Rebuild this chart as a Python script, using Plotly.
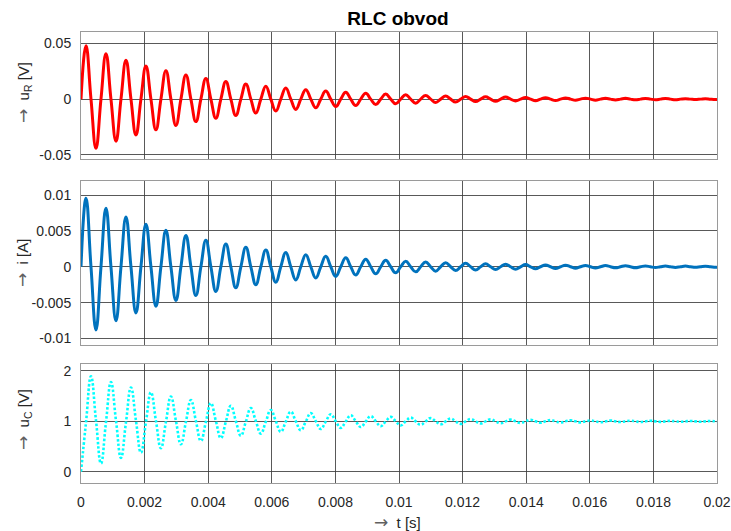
import plotly.graph_objects as go

# Sample times (s): zero crossings and extrema
t_s = [0.0, 0.000157, 0.000314, 0.000471, 0.000628, 0.000785, 0.000942, 0.0011, 0.001257, 0.001414,
       0.001571, 0.001728, 0.001885, 0.002042, 0.002199, 0.002356, 0.002513, 0.00267, 0.002827, 0.002985,
       0.003142, 0.003299, 0.003456, 0.003613, 0.00377, 0.003927, 0.004084, 0.004241, 0.004398, 0.004555,
       0.004712, 0.004869, 0.005027, 0.005184, 0.005341, 0.005498, 0.005655, 0.005812, 0.005969, 0.006126,
       0.006283, 0.00644, 0.006597, 0.006754, 0.006912, 0.007069, 0.007226, 0.007383, 0.00754, 0.007697,
       0.007854, 0.008011, 0.008168, 0.008325, 0.008482, 0.008639, 0.008796, 0.008954, 0.009111, 0.009268,
       0.009425, 0.009582, 0.009739, 0.009896, 0.010053, 0.01021, 0.010367, 0.010524, 0.010681, 0.010838,
       0.010996, 0.011153, 0.01131, 0.011467, 0.011624, 0.011781, 0.011938, 0.012095, 0.012252, 0.012409,
       0.012566, 0.012723, 0.012881, 0.013038, 0.013195, 0.013352, 0.013509, 0.013666, 0.013823, 0.01398,
       0.014137, 0.014294, 0.014451, 0.014608, 0.014765, 0.014923, 0.01508, 0.015237, 0.015394, 0.015551,
       0.015708, 0.015865, 0.016022, 0.016179, 0.016336, 0.016493, 0.01665, 0.016808, 0.016965, 0.017122,
       0.017279, 0.017436, 0.017593, 0.01775, 0.017907, 0.018064, 0.018221, 0.018378, 0.018535, 0.018692,
       0.01885, 0.019007, 0.019164, 0.019321, 0.019478, 0.019635, 0.019792, 0.019949, 0.02]

# Resistor voltage u_R (V)
u_R = [0, 0.0478, 0, -0.0440, 0, 0.0407, 0, -0.0376, 0, 0.0348, 0, -0.0321, 0, 0.0297, 0, -0.0275,
       0, 0.0254, 0, -0.0235, 0, 0.0217, 0, -0.0201, 0, 0.0185, 0, -0.0171, 0, 0.0158, 0, -0.0146,
       0, 0.0135, 0, -0.0125, 0, 0.0116, 0, -0.0107, 0, 0.0099, 0, -0.0092, 0, 0.0085, 0, -0.0078,
       0, 0.0072, 0, -0.0067, 0, 0.0062, 0, -0.0057, 0, 0.0053, 0, -0.0049, 0, 0.0045, 0, -0.0042,
       0, 0.0039, 0, -0.0036, 0, 0.0033, 0, -0.0030, 0, 0.0028, 0, -0.0026, 0, 0.0024, 0, -0.0022,
       0, 0.0021, 0, -0.0019, 0, 0.0018, 0, -0.0016, 0, 0.0015, 0, -0.0014, 0, 0.0013, 0, -0.0012,
       0, 0.0011, 0, -0.0010, 0, 0.0009, 0, -0.0009, 0, 0.0008, 0, -0.0007, 0, 0.0007, 0, -0.0006,
       0, 0.0006, 0, -0.0005, 0, 0.0005, 0, -0.0005, 0, 0.0004, 0, -0.0004, 0, 0.0004, 0, -0.0003,
       -0.0003]

# Current i (A)
i_A = [0, 0.00956, 0, -0.00880, 0, 0.00814, 0, -0.00752, 0, 0.00695, 0, -0.00643, 0, 0.00594, 0, -0.00549,
       0, 0.00508, 0, -0.00470, 0, 0.00434, 0, -0.00401, 0, 0.00371, 0, -0.00343, 0, 0.00317, 0, -0.00293,
       0, 0.00271, 0, -0.00250, 0, 0.00232, 0, -0.00214, 0, 0.00198, 0, -0.00183, 0, 0.00169, 0, -0.00156,
       0, 0.00145, 0, -0.00134, 0, 0.00124, 0, -0.00114, 0, 0.00106, 0, -0.00098, 0, 0.00090, 0, -0.00083,
       0, 0.00077, 0, -0.00071, 0, 0.00066, 0, -0.00061, 0, 0.00056, 0, -0.00052, 0, 0.00048, 0, -0.00045,
       0, 0.00041, 0, -0.00038, 0, 0.00035, 0, -0.00033, 0, 0.00030, 0, -0.00028, 0, 0.00026, 0, -0.00024,
       0, 0.00022, 0, -0.00020, 0, 0.00019, 0, -0.00017, 0, 0.00016, 0, -0.00015, 0, 0.00014, 0, -0.00013,
       0, 0.00012, 0, -0.00011, 0, 0.00010, 0, -0.00009, 0, 0.00009, 0, -0.00008, 0, 0.00007, 0, -0.00007,
       -0.00006]

# Capacitor voltage u_C (V)
u_C = [0, 0.976, 1.895, 1.022, 0.165, 0.979, 1.780, 1.019, 0.275, 0.982, 1.672, 1.016, 0.378, 0.985, 1.577, 1.014,
       0.467, 0.987, 1.493, 1.012, 0.544, 0.989, 1.422, 1.010, 0.610, 0.991, 1.360, 1.008, 0.667, 0.992, 1.308, 1.007,
       0.715, 0.993, 1.263, 1.006, 0.757, 0.994, 1.225, 1.005, 0.792, 0.995, 1.192, 1.004, 0.822, 0.996, 1.164, 1.004,
       0.848, 0.996, 1.140, 1.003, 0.870, 0.997, 1.120, 1.003, 0.889, 0.997, 1.103, 1.002, 0.905, 0.998, 1.088, 1.002,
       0.919, 1.0, 1.075, 1.0, 0.931, 1.0, 1.064, 1.0, 0.941, 1.0, 1.055, 1.0, 0.949, 1.0, 1.047, 1.0,
       0.957, 1.0, 1.040, 1.0, 0.963, 1.0, 1.034, 1.0, 0.968, 1.0, 1.029, 1.0, 0.973, 1.0, 1.025, 1.0,
       0.977, 1.0, 1.021, 1.0, 0.980, 1.0, 1.018, 1.0, 0.983, 1.0, 1.016, 1.0, 0.986, 1.0, 1.013, 1.0,
       0.988, 1.0, 1.011, 1.0, 0.990, 1.0, 1.010, 1.0, 0.991, 1.0, 1.008, 1.0, 0.992, 1.0, 1.007, 1.0,
       0.997]

x_tick_vals = [0, 0.002, 0.004, 0.006, 0.008, 0.01, 0.012, 0.014, 0.016, 0.018, 0.02]
x_tick_text = ["0", "0.002", "0.004", "0.006", "0.008", "0.01", "0.012", "0.014", "0.016", "0.018", "0.02"]
uR_tick_vals = [-0.05, 0, 0.05]
uR_tick_text = ["-0.05", "0", "0.05"]
i_tick_vals = [-0.01, -0.005, 0, 0.005, 0.01]
i_tick_text = ["-0.01", "-0.005", "0", "0.005", "0.01"]
uC_tick_vals = [0, 1, 2]
uC_tick_text = ["0", "1", "2"]

FONT = "Liberation Sans, Arial, sans-serif"
TXT = "#262626"

W, H = 731, 531
L, R, T, B = 81, 731 - 717, 32, 531 - 483

fig = go.Figure()
fig.add_trace(go.Scatter(x=t_s, y=u_R, xaxis="x", yaxis="y", mode="lines", hoverinfo="skip",
                         line=dict(color="#FF0000", width=3, shape="spline", smoothing=1.3)))
fig.add_trace(go.Scatter(x=t_s, y=i_A, xaxis="x2", yaxis="y2", mode="lines", hoverinfo="skip",
                         line=dict(color="#0072BD", width=3, shape="spline", smoothing=1.3)))
fig.add_trace(go.Scatter(x=t_s, y=u_C, xaxis="x3", yaxis="y3", mode="lines", hoverinfo="skip",
                         line=dict(color="#00FFFF", width=2.6, dash="2.5px,2px", shape="spline", smoothing=1.3)))

ax_common = dict(showgrid=True, gridcolor="rgba(60,60,60,0.85)", gridwidth=1, automargin=False,
                 showline=True, linecolor="#9a9a9a", linewidth=1, mirror=True,
                 zeroline=False, ticks="", tickfont=dict(family=FONT, size=14, color=TXT))

x_common = dict(ax_common, range=[0, 0.02], tickvals=x_tick_vals)

fig.update_layout(
    width=W, height=H,
    margin=dict(l=L, r=R, t=T, b=B, autoexpand=False),
    paper_bgcolor="white", plot_bgcolor="white",
    showlegend=False,
    font=dict(family=FONT, color=TXT),
    title=dict(text="<b>RLC obvod</b>", x=398 / W, xanchor="center",
               y=1 - 18.5 / H, yanchor="middle",
               font=dict(family=FONT, size=19, color="#000000"), automargin=False),
    xaxis=dict(x_common, anchor="y", domain=[0, 1], showticklabels=False),
    xaxis2=dict(x_common, anchor="y2", domain=[0, 1], showticklabels=False),
    xaxis3=dict(x_common, anchor="y3", domain=[0, 1], ticktext=x_tick_text, ticklabelstandoff=6,
                ticklabeloverflow="allow"),
    yaxis=dict(ax_common, anchor="x", domain=[0.7184, 1.0], range=[-0.0536, 0.0601],
               tickvals=uR_tick_vals, ticktext=uR_tick_text, ticklabelstandoff=6),
    yaxis2=dict(ax_common, anchor="x2", domain=[0.3060, 0.6696], range=[-0.0109, 0.01195],
                tickvals=i_tick_vals, ticktext=i_tick_text, ticklabelstandoff=6),
    yaxis3=dict(ax_common, anchor="x3", domain=[0.0, 0.2639], range=[-0.224, 2.139],
                tickvals=uC_tick_vals, ticktext=uC_tick_text, ticklabelstandoff=6),
)

arrow = "<span style='color:#606060;font-size:17px;font-family:\"DejaVu Sans\"'>\u2192</span>"
pw = 717 - 81
ph = 483 - 32
def ann(text, px, py, angle):
    fig.add_annotation(text=text, xref="paper", yref="paper",
                       x=(px - 81) / pw, y=(483 - py) / ph, xanchor="center", yanchor="middle",
                       showarrow=False, textangle=angle,
                       font=dict(family=FONT, size=15, color=TXT))

ann(arrow + "  u<sub>R</sub> [V]", 23, 93, -90)
ann(arrow + "  i [A]", 22, 263, -90)
ann(arrow + "  u<sub>C</sub> [V]", 23, 420, -90)
ann(arrow + "  t [s]", 397, 522, 0)

fig.write_html("out.html", config={"displayModeBar": False},
               post_script="document.body.style.margin='0';document.body.style.overflow='hidden';")
